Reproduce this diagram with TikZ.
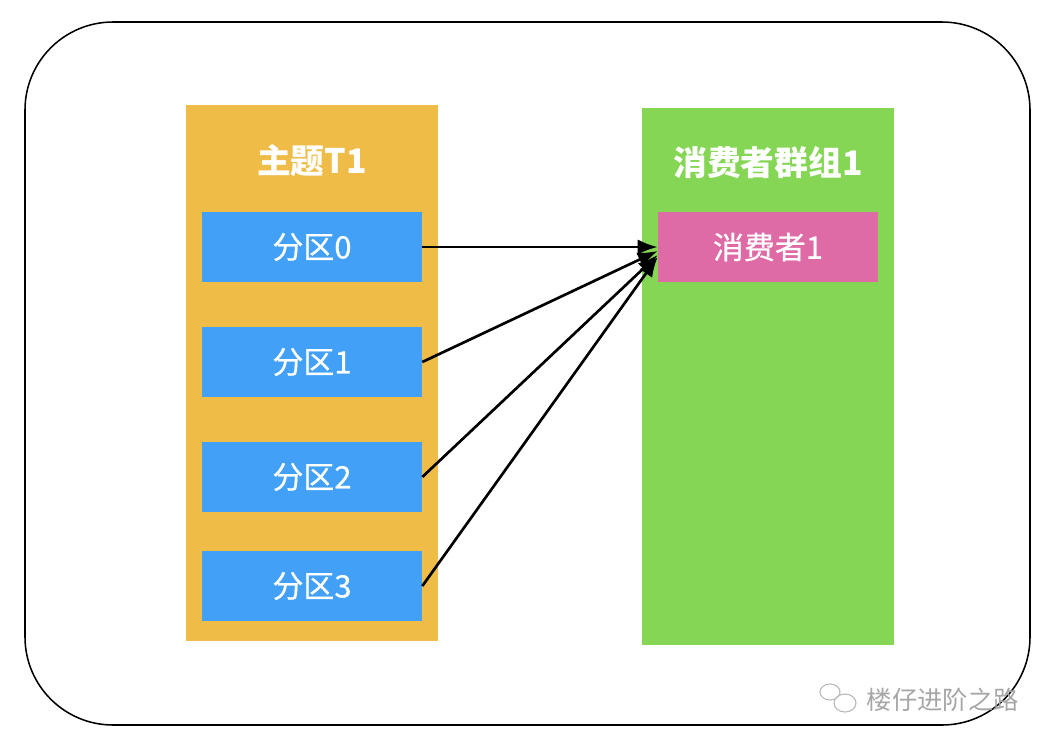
\documentclass[tikz,border=0pt]{standalone}
\usepackage{fontspec}
\usepackage{xcolor}
\usetikzlibrary{arrows.meta}
\newfontfamily\cjk{Noto Sans CJK SC}
\newfontfamily\cjkm{Noto Sans CJK SC}[FakeBold=0.6]
\definecolor{zhuti}{HTML}{EFBC48}
\definecolor{fenqu}{HTML}{42A1F7}
\definecolor{qunzu}{HTML}{84D654}
\definecolor{xiaofei}{HTML}{DE6AA6}

\begin{document}
\begin{tikzpicture}[x=0.025cm, y=-0.025cm,
		box/.style={inner sep=0pt, text=white, font=\cjkm\fontsize{22}{26}\selectfont},
		part/.style={box, fill=fenqu, minimum width=5.5cm, minimum height=1.75cm},
		title/.style={text=white, font=\cjk\bfseries\fontsize{24}{28}\selectfont},
		link/.style={line width=1.9pt, -{Latex[length=5mm, width=3.8mm]}}]
		\useasboundingbox (0,0) rectangle (1054,746);
		\draw[line width=1.1pt, rounded corners=2.2cm] (25,22) rectangle (1030,725);
		% topic
		\fill[color=zhuti] (186,105) rectangle (438,641);
		\node[title] (t1) at (312,161) {主题T1};
		\node[part] (p0) at (312,247) {分区0};
		\node[part] (p1) at (312,362) {分区1};
		\node[part] (p2) at (312,477) {分区2};
		\node[part] (p3) at (312,586) {分区3};
		% consumer group
		\fill[color=qunzu] (642,108) rectangle (894,645);
		\node[title] (g1) at (768,163) {消费者群组1};
		\node[part, fill=xiaofei] (c1) at (768,247) {消费者1};
		\draw[link] (p0.east) -- (c1.west);
		\draw[link] (p1.east) -- ([yshift=-0.1cm]c1.west);
		\draw[link] (p2.east) -- ([yshift=-0.2cm]c1.west);
		\draw[link] (p3.east) -- ([yshift=-0.25cm]c1.west);
		% watermark
		\draw[gray!55, line width=0.8pt] (830,692) ellipse (10 and 8) (845,703) ellipse (11 and 9);
		\node[text=gray!70, font=\cjk\fontsize{18}{21}\selectfont, anchor=west] (wm) at (862,700) {楼仔进阶之路};
	\end{tikzpicture}
\end{document}
